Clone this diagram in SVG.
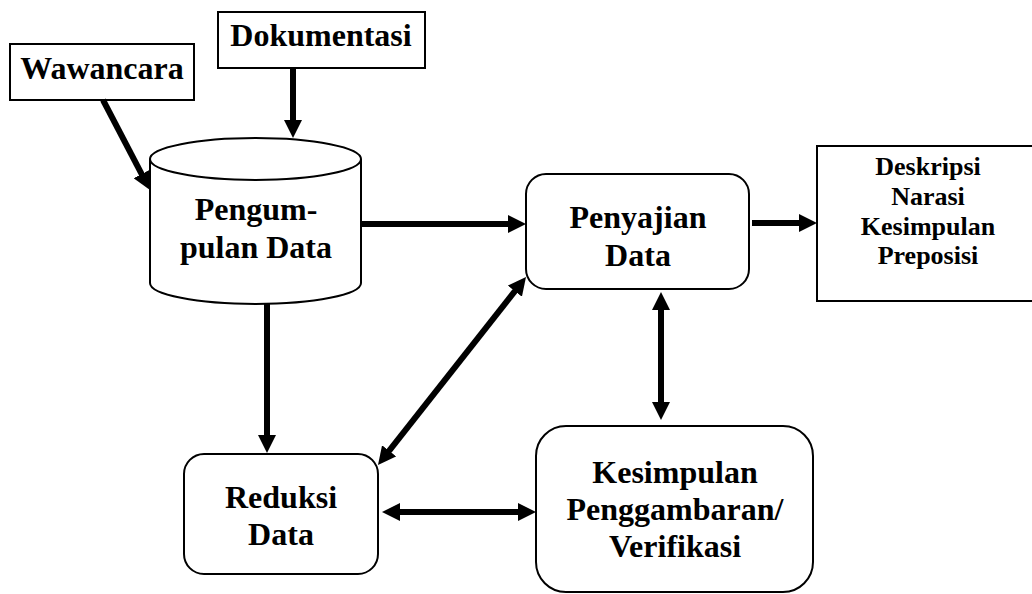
<svg xmlns="http://www.w3.org/2000/svg" width="1032" height="594" viewBox="0 0 1032 594">
<style>
.box{fill:#fff;stroke:#000;stroke-width:2}
.t{font-family:"Liberation Serif","Times New Roman",serif;font-weight:bold;font-size:32px;fill:#000;text-anchor:middle}
.s{font-size:26px}
.a{stroke:#000;stroke-width:6;fill:none;marker-end:url(#ah)}
.d{marker-start:url(#ah)}
</style>
<defs>
<marker id="ah" viewBox="0 0 18 18" refX="2" refY="9" markerWidth="18" markerHeight="18" markerUnits="userSpaceOnUse" orient="auto-start-reverse">
<path d="M0,0 L18,9 L0,18 z" fill="#000"/>
</marker>
</defs>
<rect width="1032" height="594" fill="#fff"/>
<g id="wawancara">
<rect class="box" x="10" y="44" width="184" height="56"/>
<text class="t" x="102" y="79">Wawancara</text>
</g>
<g id="dokumentasi">
<rect class="box" x="218" y="12" width="207" height="56"/>
<text class="t" x="321" y="46">Dokumentasi</text>
</g>
<g id="pengumpulan">
<path class="box" d="M150,159 L150,283 A105.5,21 0 0,0 361,283 L361,159"/>
<ellipse class="box" cx="255.5" cy="159" rx="105.5" ry="21"/>
<text class="t" x="256" y="220">Pengum-</text>
<text class="t" x="256" y="258">pulan Data</text>
</g>
<g id="penyajian">
<rect class="box" x="526" y="174" width="223" height="115" rx="20" ry="20"/>
<text class="t" x="638" y="228">Penyajian</text>
<text class="t" x="638" y="266">Data</text>
</g>
<g id="deskripsi">
<rect class="box" x="817" y="146" width="220" height="155"/>
<text class="t s" x="928" y="175">Deskripsi</text>
<text class="t s" x="928" y="205">Narasi</text>
<text class="t s" x="928" y="235">Kesimpulan</text>
<text class="t s" x="928" y="264">Preposisi</text>
</g>
<g id="reduksi">
<rect class="box" x="184" y="454" width="194" height="120" rx="20" ry="20"/>
<text class="t" x="281" y="508">Reduksi</text>
<text class="t" x="281" y="545">Data</text>
</g>
<g id="kesimpulan">
<rect class="box" x="536" y="426" width="277" height="166" rx="30" ry="30"/>
<text class="t" x="675" y="483">Kesimpulan</text>
<text class="t" x="675" y="520">Penggambaran/</text>
<text class="t" x="675" y="557">Verifikasi</text>
</g>
<g id="connectors">
<line class="a" x1="293" y1="69" x2="293" y2="122"/>
<line class="a" x1="103" y1="100" x2="142.6" y2="175.8"/>
<line class="a" x1="362" y1="224" x2="510" y2="224"/>
<line class="a" x1="752" y1="223" x2="801" y2="223"/>
<line class="a" x1="267" y1="304" x2="267" y2="437"/>
<line class="a d" x1="387.9" y1="452.4" x2="516.1" y2="289.6"/>
<line class="a d" x1="398" y1="512" x2="520" y2="512"/>
<line class="a d" x1="661" y1="308" x2="661" y2="404"/>
</g>
</svg>
